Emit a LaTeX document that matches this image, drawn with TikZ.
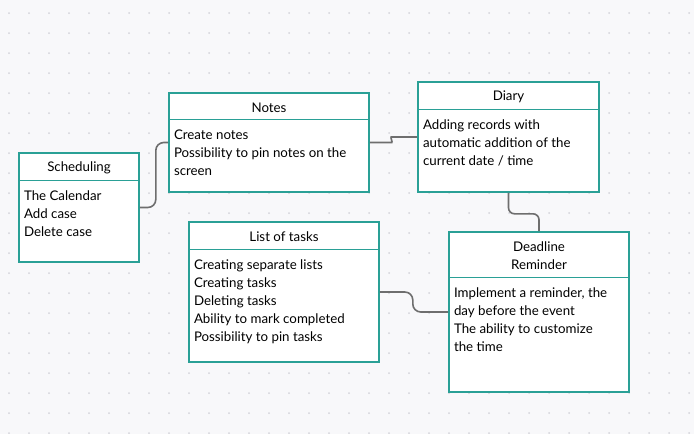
\documentclass[tikz,border=0pt]{standalone}
\usepackage{fontspec}
\setmainfont{Lato}
\usetikzlibrary{positioning}

\definecolor{boxline}{RGB}{42,160,150}
\definecolor{wirecol}{RGB}{110,110,110}
\definecolor{paper}{RGB}{248,248,250}
\definecolor{griddot}{RGB}{212,212,218}

\begin{document}
\begin{tikzpicture}[x=1pt, y=-1pt,
  card/.style={draw=boxline, line width=1.6pt, fill=white, inner sep=0pt},
  head/.style={inner sep=0pt, anchor=north, yshift=-1.5pt,
    align=center, font=\fontsize{13.3}{18}\selectfont},
  divider/.style={draw=boxline, line width=1.6pt},
  items/.style={anchor=north west, align=left, inner sep=0pt, xshift=5pt,
    yshift=-8.5pt, font=\fontsize{13.3}{18}\selectfont},
  wire/.style={draw=wirecol, line width=1.6pt, rounded corners=8pt}]

  % background with dots
  \fill[paper] (0,0) rectangle (694,434);
  \useasboundingbox (0,0) rectangle (694,434);
  \foreach \i in {0,...,34}
    \foreach \j in {0,...,21}
      \fill[griddot] (9+20*\i, 13+20*\j) circle (1pt);

  % boxes
  \node[card, minimum width=120pt, minimum height=109pt] (sched) at (79,207.5) {};
  \node[head, minimum width=120pt, minimum height=28pt] (sched-t) at (sched.north) {Scheduling};
  \path[divider] ([yshift=1.5pt]sched-t.south west) -- ([yshift=1.5pt]sched-t.south east);
  \node[items] (sched-b) at (sched-t.south west) {The Calendar\\Add case\\Delete case};

  \node[card, minimum width=200pt, minimum height=99pt] (notes) at (269,142.5) {};
  \node[head, minimum width=200pt, minimum height=27pt] (notes-t) at (notes.north) {Notes};
  \path[divider] ([yshift=1.5pt]notes-t.south west) -- ([yshift=1.5pt]notes-t.south east);
  \node[items] (notes-b) at (notes-t.south west) {Create notes\\Possibility to pin notes on the\\screen};

  \node[card, minimum width=181pt, minimum height=110pt] (diary) at (508.5,137) {};
  \node[head, minimum width=181pt, minimum height=28pt] (diary-t) at (diary.north) {Diary};
  \path[divider] ([yshift=1.5pt]diary-t.south west) -- ([yshift=1.5pt]diary-t.south east);
  \node[items] (diary-b) at (diary-t.south west) {Adding records with\\automatic addition of the\\current date / time};

  \node[card, minimum width=190pt, minimum height=140pt] (tasks) at (284,292) {};
  \node[head, minimum width=190pt, minimum height=28pt] (tasks-t) at (tasks.north) {List of tasks};
  \path[divider] ([yshift=1.5pt]tasks-t.south west) -- ([yshift=1.5pt]tasks-t.south east);
  \node[items] (tasks-b) at (tasks-t.south west) {Creating separate lists\\Creating tasks\\Deleting tasks\\Ability to mark completed\\Possibility to pin tasks};

  \node[card, minimum width=180pt, minimum height=160pt] (remind) at (539,312) {};
  \node[head, minimum width=180pt, minimum height=46pt] (remind-t) at (remind.north) {Deadline\\Reminder};
  \path[divider] ([yshift=1.5pt]remind-t.south west) -- ([yshift=1.5pt]remind-t.south east);
  \node[items] (remind-b) at (remind-t.south west) {Implement a reminder, the\\day before the event\\The ability to customize\\the time};

  % connectors
  \path[wire] (sched.east) -- ++(16,0) |- (notes.west);
  \path[wire] (notes.east) -- ++(14,0) .. controls +(9,0) and +(-9,0) .. ([xshift=-18pt]diary.west) -- (diary.west);
  \path[wire, rounded corners=6pt] (diary.south) -- ++(0,21) -| (remind.north);
  \path[wire] (tasks.east) -- ++(33,0) |- (remind.west);

\end{tikzpicture}
\end{document}
